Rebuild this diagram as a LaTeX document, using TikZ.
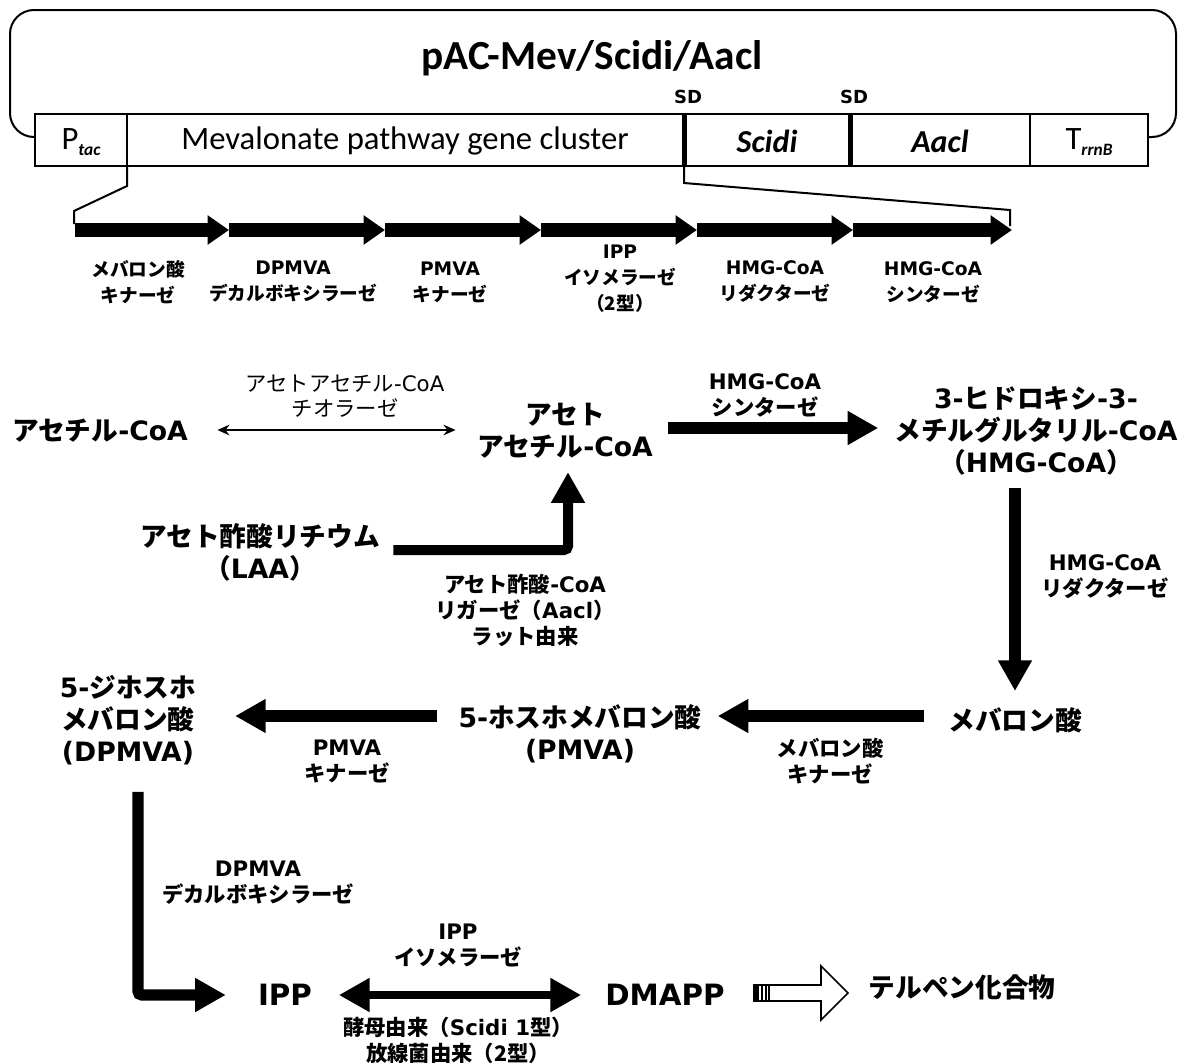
\documentclass[tikz,border=0pt]{standalone}
\usepackage{fontspec}
\setmainfont{DejaVu Sans}
\newfontfamily\jpfont{Noto Sans CJK JP}
\newfontfamily\calfont{Carlito}
\newcommand\J[1]{{\jpfont #1}}
\usetikzlibrary{arrows.meta,calc}
\tikzset{
  big/.style={font=\fontsize{20}{24}\selectfont\bfseries, align=center, inner sep=0pt},
  ippfont/.style={font=\fontsize{22}{26}\selectfont\bfseries, inner sep=0pt},
  lab/.style={font=\fontsize{16}{19.5}\selectfont\bfseries, align=center, inner sep=0pt},
  thinlab/.style={font=\fontsize{16}{19}\selectfont, align=center, inner sep=0pt},
  gene/.style={font=\fontsize{14}{19.5}\selectfont\bfseries, align=center, inner sep=0pt},
  cell/.style={font=\calfont\fontsize{24.5}{28}\selectfont, inner sep=0pt},
  sdlab/.style={font=\fontsize{13.5}{15}\selectfont\bfseries, inner sep=0pt},
  bigarrow/.style={line width=8.5pt, -{Triangle[length=23pt,width=24pt]}},
  dblarrow/.style={line width=6pt, {Triangle[length=23pt,width=24pt]}-{Triangle[length=23pt,width=24pt]}},
  thinarrow/.style={line width=1.2pt, {Stealth[length=9pt,width=8pt]}-{Stealth[length=9pt,width=8pt]}},
  genearrow/.style={line width=11pt, -{Triangle[length=16pt,width=21pt]}},
  frame/.style={line width=1.5pt},
}
\begin{document}
\begin{tikzpicture}[x=0.75pt,y=-0.75pt]
\useasboundingbox (0,0) rectangle (1189,1064);

% ---------- plasmid ----------
\draw[frame, rounded corners=18pt] (35,137) -- (10,137) -- (10,10) -- (1176,10) -- (1176,137) -- (1148,137);
\node[font=\calfont\fontsize{31}{36}\selectfont\bfseries, inner sep=0pt] (title) at (592,58) {pAC-Mev/Scidi/Aacl};
\draw[frame, fill=white] (35,114) rectangle (1148,166);
\draw[frame] (127,114) -- (127,166);
\draw[line width=3.75pt] (684,114) -- (684,166);
\draw[line width=3.75pt] (850,114) -- (850,166);
\draw[frame] (1030,114) -- (1030,166);
\node[cell] (ptac) at (81,142) {P\raisebox{-0.35ex}{\fontsize{13}{13}\selectfont\bfseries\itshape tac}};
\node[cell] (mevc) at (405,141) {Mevalonate pathway gene cluster};
\node[cell, font=\calfont\fontsize{24}{28}\selectfont\bfseries\itshape] (scidi) at (767,141) {Scidi};
\node[cell, font=\calfont\fontsize{24}{28}\selectfont\bfseries\itshape] (aacl) at (940,141) {Aacl};
\node[cell] (trrnb) at (1089,142) {T\raisebox{-0.35ex}{\fontsize{13}{13}\selectfont\bfseries\itshape rrnB}};
\node[sdlab] (sd1) at (688,97) {SD};
\node[sdlab] (sd2) at (854,97) {SD};

% ---------- gene arrows ----------
\coordinate (ga0) at (75,230);
\coordinate (ga1) at (229,230);
\coordinate (ga2) at (385,230);
\coordinate (ga3) at (541,230);
\coordinate (ga4) at (697,230);
\coordinate (ga5) at (853,230);
\coordinate (ga6) at (1012,230);
\draw[genearrow] (ga0) -- (ga1);
\draw[genearrow] (ga1) -- (ga2);
\draw[genearrow] (ga2) -- (ga3);
\draw[genearrow] (ga3) -- (ga4);
\draw[genearrow] (ga4) -- (ga5);
\draw[genearrow] (ga5) -- (ga6);
\draw[frame] (127,166) -- (127,186) -- (74,211) -- (74,224);
\draw[frame] (684,166) -- (684,183) -- (1010,210) -- (1010,226);

\node[gene] (g1) at (138,282) {\J{メバロン酸}\\\J{キナーゼ}};
\node[gene] (g2) at (293,282) {DPMVA\\\J{デカルボキシラーゼ}};
\node[gene] (g3) at (450,282) {PMVA\\\J{キナーゼ}};
\node[gene] (g4) at (620,279) {IPP\\\J{イソメラーゼ}\\\J{（2型）}};
\node[gene] (g5) at (775,282) {HMG-CoA\\\J{リダクターゼ}};
\node[gene] (g6) at (933,282) {HMG-CoA\\\J{シンターゼ}};

% ---------- pathway nodes ----------
\node[big] (acoa) at (100,431) {\J{アセチル}-CoA};
\node[big] (aacoa) at (565,431) {\J{アセト}\\\J{アセチル}-CoA};
\node[big] (hmg) at (1036,431) {3-\J{ヒドロキシ}-3-\\\J{メチルグルタリル}-CoA\\\J{（}HMG-CoA\J{）}};
\node[big] (laa) at (260,552) {\J{アセト酢酸リチウム}\\\J{（}LAA\J{）}};
\node[big] (mev) at (1015,720) {\J{メバロン酸}};
\node[big] (pmva) at (580,734) {5-\J{ホスホメバロン酸}\\(PMVA)};
\node[big] (dpmva) at (128,720) {5-\J{ジホスホ}\\\J{メバロン酸}\\(DPMVA)};
\node[ippfont] (ipp) at (285,995) {IPP};
\node[ippfont] (dmapp) at (665,995) {DMAPP};
\node[big] (terp) at (962,987) {\J{テルペン化合物}};

% ---------- labels ----------
\node[thinlab] (l1) at (345,396) {\J{アセトアセチル}-CoA\\\J{チオラーゼ}};
\node[lab] (l2) at (765,395) {HMG-CoA\\\J{シンターゼ}};
\node[lab] (l3) at (1105,577) {HMG-CoA\\\J{リダクターゼ}};
\node[lab] (l4) at (830,761) {\J{メバロン酸}\\\J{キナーゼ}};
\node[lab] (l5) at (347,761) {PMVA\\\J{キナーゼ}};
\node[lab] (l6) at (258,883) {DPMVA\\\J{デカルボキシラーゼ}};
\node[lab] (l7) at (458,945) {IPP\\\J{イソメラーゼ}};
\node[lab] (l8) at (458,1040) {\J{酵母由来（}Scidi 1\J{型）}\\\J{放線菌由来（2型）}};
\node[lab] (l9) at (525,610) {\J{アセト酢酸}-CoA\\\J{リガーゼ（}Aacl\J{）}\\\J{ラット由来}};

% ---------- connectors ----------
\coordinate (rowA) at (0,430);
\coordinate (rowB) at (0,428);
\coordinate (rowC) at (0,716);
\coordinate (rowD) at (0,995);
\coordinate (rowE) at (0,550);
\coordinate (colH) at (1015,0);
\coordinate (colL) at (568,0);
\coordinate (colD) at (138,0);

\draw[thinarrow] ([xshift=22pt]acoa.east |- rowA) -- ([xshift=-16pt]aacoa.west |- rowA);
\draw[bigarrow] ([xshift=11pt]aacoa.east |- rowB) -- ([xshift=-12pt]hmg.west |- rowB);
\draw[bigarrow] ([yshift=-9pt]colH |- hmg.south) -- ([yshift=12pt]colH |- mev.north);
\draw[bigarrow] ([xshift=-18pt]mev.west |- rowC) -- ([xshift=12pt]pmva.east |- rowC);
\draw[bigarrow] ([xshift=-16pt]pmva.west |- rowC) -- ([xshift=29pt]dpmva.east |- rowC);
\draw[line width=8.5pt, rounded corners=3pt, -{Triangle[length=23pt,width=24pt]}]
  ([yshift=-20pt]colD |- dpmva.south) -- (colD |- rowD) -- ([xshift=-24pt]ipp.west |- rowD);
\draw[dblarrow] ([xshift=20pt]ipp.east |- rowD) -- ([xshift=-18pt]dmapp.west |- rowD);
\draw[line width=7.5pt, rounded corners=3pt, -{Triangle[length=23pt,width=24pt]}]
  ([xshift=10pt]laa.east |- rowE) -- (colL |- rowE) -- ([yshift=-10pt]colL |- aacoa.south);

% hollow arrow
\coordinate (hA) at (754,993);
\draw[line width=1.2pt, fill=white] (hA) ++(15,-8) -- ++(52,0) -- ++(0,-19) -- ++(27,27) -- ++(-27,27) -- ++(0,-19) -- ++(-52,0) -- cycle;
\draw[line width=1.2pt] (hA) ++(0,-8) rectangle ++(15,16);
\draw[line width=3pt] (hA) ++(3,-8) -- ++(0,16);
\draw[line width=1.5pt] (hA) ++(8,-8) -- ++(0,16);
\draw[line width=1.5pt] (hA) ++(12,-8) -- ++(0,16);
\end{tikzpicture}
\end{document}
